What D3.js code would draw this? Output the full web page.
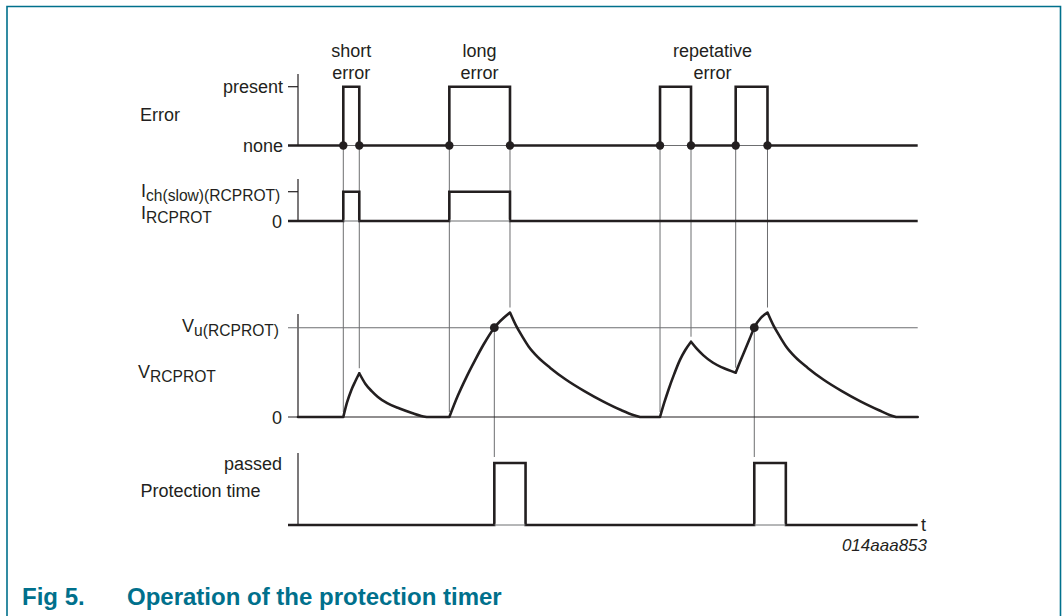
<!DOCTYPE html>
<html><head><meta charset="utf-8">
<script src="https://cdn.jsdelivr.net/npm/d3@7"></script>
<style>
html,body{margin:0;padding:0;background:#fff;}
svg{display:block;}
text{font-family:"Liberation Sans",Arial,Helvetica,sans-serif;fill:#231f20;}
</style></head>
<body>
<svg id="chart" width="1063" height="616"></svg>
<script>
// ---------- data (time in arbitrary units 0..100) ----------
const errorPulses = [[7.31, 9.89], [24.42, 34.21], [58.42, 63.42], [70.63, 75.76]];
const currentPulses = [[7.31, 9.89], [24.42, 34.21]];
const eventLabels = [["short", "error"], ["long", "error"], ["repetative", "error"]];
const eventLabelX = [8.6, 29.3, 66.9];
const protectionPulses = [[31.68, 36.72], [73.63, 78.72]];
const vuCrossings = [31.68, 73.63];
// V_RCPROT curve, split into monotone segments (value 1 = Vu(RCPROT))
const vSegments = [
  [[0, 0], [7.31, 0]],
  [[7.31, 0], [7.9, 0.16], [8.6, 0.3], [9.25, 0.4], [9.89, 0.49]],
  [[9.89, 0.49], [10.89, 0.37], [11.89, 0.29], [12.89, 0.225], [14.39, 0.155], [16.39, 0.095], [18.39, 0.045], [19.89, 0.012], [20.77, 0]],
  [[20.77, 0], [24.42, 0]],
  [[24.42, 0], [25.8, 0.24], [27.2, 0.45], [28.6, 0.64], [29.9, 0.806], [31.68, 1.0], [34.21, 1.17]],
  [[34.21, 1.17], [35.21, 1.02], [36.21, 0.9], [37.21, 0.79], [38.71, 0.67], [40.71, 0.55], [43.21, 0.42], [46.21, 0.29], [49.21, 0.175], [52.21, 0.075], [54.21, 0.02], [55.2, 0]],
  [[55.2, 0], [58.42, 0]],
  [[58.42, 0], [59.1, 0.16], [59.76, 0.30], [60.7, 0.48], [61.64, 0.64], [62.5, 0.75], [63.42, 0.843]],
  [[63.42, 0.843], [64.42, 0.76], [65.42, 0.69], [66.92, 0.61], [68.42, 0.555], [70.63, 0.496]],
  [[70.63, 0.496], [71.4, 0.63], [72.13, 0.75], [72.9, 0.88], [73.63, 1.0], [75.76, 1.17]],
  [[75.76, 1.17], [76.76, 1.02], [77.76, 0.9], [78.76, 0.79], [80.26, 0.67], [82.26, 0.55], [84.76, 0.42], [87.76, 0.29], [90.76, 0.175], [93.76, 0.075], [95.56, 0.02], [96.5, 0]],
  [[96.5, 0], [100, 0]]
];
const tickLabels = {error: ["none", "present"], current: ["0"], voltage: ["0"], prot: ["passed"]};
const rowLabels = ["Error", "Protection time"];
const caption = ["Fig 5.", "Operation of the protection timer"];
const figId = "014aaa853";

// ---------- layout ----------
const svg = d3.select("#chart");
const teal = "#00708c", ink = "#231f20", thin = "#6d6e70";
const x = d3.scaleLinear().domain([0, 100]).range([298, 917.7]);
const yE = d3.scaleLinear().domain([0, 1]).range([145.5, 86.7]);
const yI = d3.scaleLinear().domain([0, 1]).range([221, 191.7]);
const yV = d3.scaleLinear().domain([0, 1]).range([417, 327.7]);
const yP = d3.scaleLinear().domain([0, 1]).range([525, 463]);
const x0 = 288, x1 = x(100);

// frame
svg.append("path").attr("d", `M7,616V6.5H1060.5V616`).attr("fill", "none")
  .attr("stroke", teal).attr("stroke-width", 1.6);

const g = svg.append("g");
function hline(y, xa, xb, color, w) {
  g.append("line").attr("x1", xa).attr("x2", xb).attr("y1", y).attr("y2", y)
    .attr("stroke", color).attr("stroke-width", w);
}
function vline(xx, ya, yb, color, w) {
  g.append("line").attr("x1", xx).attr("x2", xx).attr("y1", ya).attr("y2", yb)
    .attr("stroke", color).attr("stroke-width", w);
}
function pulseTrain(pulses, ys) {
  const pts = [[x0, ys(0)]];
  pulses.forEach(([a, b]) => {
    pts.push([x(a), ys(0)], [x(a), ys(1)], [x(b), ys(1)], [x(b), ys(0)]);
  });
  pts.push([x1, ys(0)]);
  g.append("path").attr("d", d3.line()(pts)).attr("fill", "none")
    .attr("stroke", ink).attr("stroke-width", 2.6).attr("stroke-linejoin", "miter");
  // thin baseline under pulses
  pulses.forEach(([a, b]) => hline(ys(0), x(a) + 1.3, x(b) - 1.3, "#fff", 2.8));
  pulses.forEach(([a, b]) => hline(ys(0), x(a), x(b), thin, 1));
}

// value of V at an error edge (max of segment endpoints at that time)
function vAt(t) {
  let best = 0;
  vSegments.forEach(s => s.forEach(p => { if (Math.abs(p[0] - t) < 1e-6) best = Math.max(best, p[1]); }));
  return best;
}

// ---- thin vertical guide lines ----
errorPulses.flat().forEach(t => vline(x(t), yE(0), yV(vAt(t)) - 5, thin, 1));
vuCrossings.forEach(t => vline(x(t), yV(1), yP(1) - 6, thin, 1));

// ---- axes ----
vline(298, 74, yE(0), ink, 1.2);
hline(yE(1), x0, 298, ink, 1.2);
vline(298, 179, yI(0), ink, 1.2);
hline(yI(1), x0, 298, ink, 1.2);
vline(298, 314, yV(0), ink, 1.2);
hline(yV(1), x0, x1, thin, 1.1);
hline(yV(0), x0, x1, ink, 1.1);
vline(298, 453, yP(0), ink, 1.2);

// ---- traces ----
pulseTrain(errorPulses, yE);
pulseTrain(currentPulses, yI);
pulseTrain(protectionPulses, yP);

const vLine = d3.line().x(d => x(d[0])).y(d => yV(d[1])).curve(d3.curveMonotoneX);
g.append("path").attr("d", vSegments.map(s => vLine(s)).join(""))
  .attr("fill", "none").attr("stroke", ink).attr("stroke-width", 2.6)
  .attr("stroke-linecap", "round").attr("stroke-linejoin", "round");

// dots
errorPulses.flat().forEach(t => g.append("circle").attr("cx", x(t)).attr("cy", yE(0)).attr("r", 4.2).attr("fill", ink));
vuCrossings.forEach(t => g.append("circle").attr("cx", x(t)).attr("cy", yV(1)).attr("r", 4.4).attr("fill", ink));

// ---- texts ----
const T = svg.append("g").attr("font-size", 18);
function txt(s, xx, yy, anchor) {
  return T.append("text").attr("x", xx).attr("y", yy).attr("text-anchor", anchor || "start").text(s);
}
eventLabels.forEach((ls, i) => {
  txt(ls[0], x(eventLabelX[i]), 57, "middle");
  txt(ls[1], x(eventLabelX[i]), 79, "middle");
});
txt(rowLabels[0], 140, 120.5);
txt(tickLabels.error[1], 283, 93, "end");
txt(tickLabels.error[0], 283, 152, "end");
let t1 = T.append("text").attr("x", 141).attr("y", 197);
t1.append("tspan").text("I");
t1.append("tspan").attr("font-size", 15.6).attr("dy", 4).text("ch(slow)(RCPROT)");
let t2 = T.append("text").attr("x", 141).attr("y", 219);
t2.append("tspan").text("I");
t2.append("tspan").attr("font-size", 15.6).attr("dy", 4).text("RCPROT");
txt(tickLabels.current[0], 282, 228, "end");
let t3 = T.append("text").attr("x", 279).attr("y", 332).attr("text-anchor", "end");
t3.append("tspan").text("V");
t3.append("tspan").attr("font-size", 15.6).attr("dy", 4).text("u(RCPROT)");
let t4 = T.append("text").attr("x", 138).attr("y", 378);
t4.append("tspan").text("V");
t4.append("tspan").attr("font-size", 15.6).attr("dy", 4).text("RCPROT");
txt(tickLabels.voltage[0], 282, 424, "end");
txt(tickLabels.prot[0], 282, 469.5, "end");
txt(rowLabels[1], 140.5, 497);
txt("t", 921, 530.5);
T.append("text").attr("x", 927).attr("y", 551).attr("text-anchor", "end")
  .attr("font-size", 17).attr("font-style", "italic").text(figId);

// caption
const C = svg.append("g").attr("font-size", 24).attr("font-weight", "bold");
C.append("text").attr("x", 22).attr("y", 605).style("fill", teal).text(caption[0]);
C.append("text").attr("x", 127).attr("y", 605).style("fill", teal).text(caption[1]);
</script>
</body></html>
